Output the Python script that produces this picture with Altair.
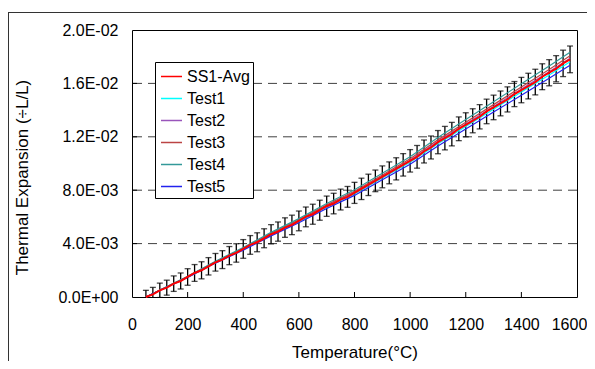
import json
import altair as alt
import pandas as pd

# ---------------- data ----------------
temp_avg = list(range(50, 1600, 25))  # 50 .. 1575 °C, one point every 25 °C
avg_vals = [
    0.0000, 0.0002, 0.0005, 0.0007, 0.0010, 0.0012, 0.0015, 0.0018, 0.0020, 0.0023,
    0.0026, 0.0028, 0.0031, 0.0033, 0.0036, 0.0039, 0.0041, 0.0044, 0.0047, 0.0049,
    0.0052, 0.0054, 0.0057, 0.0060, 0.0062, 0.0065, 0.0068, 0.0070, 0.0073, 0.0075,
    0.0078, 0.0081, 0.0084, 0.0087, 0.0090, 0.0093, 0.0096, 0.0099, 0.0102, 0.0105,
    0.0109, 0.0112, 0.0116, 0.0119, 0.0122, 0.0126, 0.0129, 0.0132, 0.0135, 0.0139,
    0.0142, 0.0145, 0.0148, 0.0152, 0.0155, 0.0158, 0.0161, 0.0165, 0.0168, 0.0171,
    0.0175, 0.0178,
]
err_vals = [
    0.00050, 0.00052, 0.00054, 0.00056, 0.00058, 0.00060, 0.00062, 0.00063, 0.00064, 0.00065,
    0.00066,
    0.00067, 0.00068, 0.00069, 0.00070, 0.00070, 0.00071, 0.00071, 0.00072, 0.00072, 0.00073,
    0.00073, 0.00074, 0.00074, 0.00075, 0.00075, 0.00076,
    0.00077, 0.00078, 0.00078, 0.00079, 0.00080, 0.00080, 0.00081, 0.00082, 0.00082, 0.00083,
    0.00084, 0.00084, 0.00085, 0.00086, 0.00086, 0.00087, 0.00088, 0.00088, 0.00089, 0.00090,
    0.00090, 0.00091, 0.00092, 0.00092, 0.00093, 0.00094, 0.00094, 0.00095, 0.00096, 0.00096,
    0.00097, 0.00098, 0.00098, 0.00099, 0.00100,
]

temp_test = [50, 100, 200, 300, 400, 500, 600, 700, 800, 900, 1000, 1100, 1200, 1300, 1400, 1500, 1575]
test1 = [0.0000, 0.00050, 0.00149, 0.00257, 0.00356, 0.00465, 0.00564, 0.00673, 0.00772, 0.00891,
         0.01010, 0.01148, 0.01277, 0.01406, 0.01535, 0.01663, 0.01762]
test2 = [0.0000, 0.00050, 0.00151, 0.00261, 0.00362, 0.00472, 0.00573, 0.00683, 0.00784, 0.00905,
         0.01025, 0.01166, 0.01296, 0.01427, 0.01558, 0.01688, 0.01789]
test3 = [0.0000, 0.00051, 0.00152, 0.00264, 0.00365, 0.00477, 0.00579, 0.00690, 0.00792, 0.00914,
         0.01035, 0.01177, 0.01309, 0.01441, 0.01573, 0.01705, 0.01807]
test4 = [0.0000, 0.00052, 0.00155, 0.00268, 0.00371, 0.00484, 0.00587, 0.00700, 0.00803, 0.00927,
         0.01051, 0.01195, 0.01329, 0.01463, 0.01597, 0.01730, 0.01834]
test5 = [0.0000, 0.00049, 0.00146, 0.00254, 0.00351, 0.00458, 0.00556, 0.00663, 0.00761, 0.00878,
         0.00995, 0.01131, 0.01258, 0.01385, 0.01511, 0.01638, 0.01736]

series_names = ["SS1-Avg", "Test1", "Test2", "Test3", "Test4", "Test5"]
series_colors = ["#ff0000", "#00ffff", "#9955bb", "#bb4444", "#339999", "#2222ee"]

x_tick_values = [0, 200, 400, 600, 800, 1000, 1200, 1400, 1600]
y_tick_values = [0.0, 0.004, 0.008, 0.012, 0.016, 0.02]
y_tick_labels = ["0.0E+00", "4.0E-03", "8.0E-03", "1.2E-02", "1.6E-02", "2.0E-02"]
y_grid_values = [0.004, 0.008, 0.012, 0.016]

x_title = "Temperature(°C)"
y_title = "Thermal Expansion (÷L/L)"

# ---------------- tables ----------------
avg_df = pd.DataFrame({"T": temp_avg, "v": avg_vals, "e": err_vals, "series": "SS1-Avg"})
avg_df["lo"] = avg_df["v"] - avg_df["e"]
avg_df["hi"] = avg_df["v"] + avg_df["e"]

rows = []
for name, vals in zip(series_names[1:], [test1, test2, test3, test4, test5]):
    for t, v in zip(temp_test, vals):
        rows.append({"T": t, "v": v, "series": name})
test_df = pd.DataFrame(rows)

grid_df = pd.DataFrame({"g": y_grid_values})
xt_df = pd.DataFrame({"t": x_tick_values[1:-1]})
one_df = pd.DataFrame({"a": [0]})

FONT = "Liberation Sans"
W, H = 445, 267

x_scale = alt.Scale(domain=[0, 1600], nice=False)
y_scale = alt.Scale(domain=[0, 0.02], nice=False, zero=False)

label_expr = json.dumps(y_tick_labels) + "[round(datum.value / 0.004)]"

x_axis = alt.Axis(values=x_tick_values, format="d", title=x_title, grid=False, domain=False,
                  ticks=False, tickSize=0, labelPadding=19, labelFontSize=16, labelFont=FONT,
                  labelColor="black", labelFlush=False, labelOverlap=False,
                  labelOffset={"condition": {"test": "datum.value == 1600", "value": -8},
                               "value": 0},
                  titleFont=FONT, titleFontSize=17, titleFontWeight="normal",
                  titleColor="black", titleY=60.5, titleBaseline="alphabetic")
y_axis = alt.Axis(values=y_tick_values, labelExpr=label_expr, title=y_title, grid=False,
                  domain=False, ticks=False, tickSize=0, labelPadding=14, labelFontSize=16,
                  labelFont=FONT, labelColor="black", labelFlush=False, labelOverlap=False,
                  titleFont=FONT, titleFontSize=17,
                  titleFontWeight="normal", titleColor="black", titleAngle=-90,
                  titleX=-105, titleY=147, titleBaseline="alphabetic", titleAlign="center")

color_enc = alt.Color(
    "series:N",
    scale=alt.Scale(domain=series_names, range=series_colors),
    legend=alt.Legend(orient="none", legendX=23, legendY=32, title=None, symbolType="stroke",
                      symbolSize=441, symbolStrokeWidth=1.5, symbolOffset=2,
                      labelFont=FONT, labelFontSize=16,
                      labelColor="black", padding=3, rowPadding=2, labelOffset=4,
                      strokeColor="black", fillColor="white", cornerRadius=0),
)

# gridlines
grid = alt.Chart(grid_df).mark_rule(color="#404040", strokeWidth=1, strokeDash=[9, 6]).encode(
    y=alt.Y("g:Q", scale=y_scale, axis=y_axis)
)
# inward ticks
xticks = alt.Chart(xt_df).mark_rule(color="black", strokeWidth=1).encode(
    x=alt.X("t:Q", scale=x_scale, axis=x_axis), y=alt.value(H), y2=alt.value(H - 5)
)
yticks = alt.Chart(grid_df).mark_rule(color="black", strokeWidth=1).encode(
    y=alt.Y("g:Q", scale=y_scale, axis=y_axis), x=alt.value(0), x2=alt.value(5)
)

# error bars
ebar = alt.Chart(avg_df).mark_rule(color="black", strokeWidth=1.3, clip=True).encode(
    x=alt.X("T:Q", scale=x_scale, axis=x_axis),
    y=alt.Y("lo:Q", scale=y_scale, axis=y_axis),
    y2="hi:Q",
)
cap_lo = alt.Chart(avg_df).mark_tick(color="black", orient="horizontal", size=6, thickness=1.3,
                                     clip=True).encode(
    x=alt.X("T:Q", scale=x_scale, axis=x_axis), y=alt.Y("lo:Q", scale=y_scale, axis=y_axis)
)
cap_hi = alt.Chart(avg_df).mark_tick(color="black", orient="horizontal", size=6, thickness=1.3,
                                     clip=True).encode(
    x=alt.X("T:Q", scale=x_scale, axis=x_axis), y=alt.Y("hi:Q", scale=y_scale, axis=y_axis)
)

tests = alt.Chart(test_df).mark_line(strokeWidth=1.2).encode(
    x=alt.X("T:Q", scale=x_scale, axis=x_axis),
    y=alt.Y("v:Q", scale=y_scale, axis=y_axis),
    color=color_enc,
    detail="series:N",
)
avg = alt.Chart(avg_df).mark_line(strokeWidth=2).encode(
    x=alt.X("T:Q", scale=x_scale, axis=x_axis),
    y=alt.Y("v:Q", scale=y_scale, axis=y_axis),
    color=color_enc,
)

# outer chart-area frame (left and top edges)
frame_left = alt.Chart(one_df).mark_rule(color="#333333", strokeWidth=1).encode(
    x=alt.value(-123.5), y=alt.value(-18), y2=alt.value(345)
)
frame_top = alt.Chart(one_df).mark_rule(color="#333333", strokeWidth=1).encode(
    x=alt.value(-124), x2=alt.value(470), y=alt.value(-17.5)
)

chart = (
    alt.layer(grid, xticks, yticks, ebar, cap_lo, cap_hi, tests, avg, frame_left, frame_top)
    .properties(width=W, height=H,
                autosize=alt.AutoSizeParams(type="none"),
                padding={"left": 124, "top": 22, "right": 10, "bottom": 64},
                background="white")
    .configure_view(stroke="black", strokeWidth=1)
)

chart.save("out.html", embed_options={"renderer": "svg", "actions": False})
